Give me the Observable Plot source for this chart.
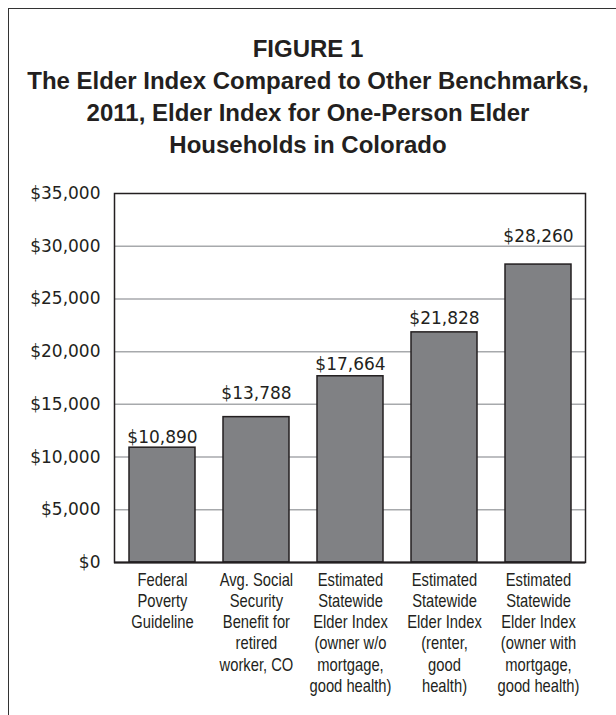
<!DOCTYPE html>
<html>
<head>
<meta charset="utf-8">
<script src="https://cdn.jsdelivr.net/npm/d3@7"></script>
<script src="https://cdn.jsdelivr.net/npm/@observablehq/plot@0.6"></script>
<style>
  html, body { margin: 0; padding: 0; background: #fff; width: 616px; height: 715px; overflow: hidden; }
  #box { position: absolute; left: 8px; top: 8px; width: 700px; height: 800px;
         border-left: 1.5px solid #333; border-top: 1.5px solid #333; }
  #title { position: absolute; left: 0; top: 33px; width: 616px; text-align: center;
           font-family: "Liberation Sans", Arial, sans-serif; font-weight: bold;
           font-size: 24px; line-height: 32px; color: #231f20; }
  #chart { position: absolute; left: 0; top: 170px; }
</style>
</head>
<body>
<div id="box"></div>
<div id="title">FIGURE 1<br>The Elder Index Compared to Other Benchmarks,<br>2011, Elder Index for One-Person Elder<br>Households in Colorado</div>
<div id="chart"></div>
<script>
const categories = [
  "Federal\nPoverty\nGuideline",
  "Avg. Social\nSecurity\nBenefit for\nretired\nworker, CO",
  "Estimated\nStatewide\nElder Index\n(owner w/o\nmortgage,\ngood health)",
  "Estimated\nStatewide\nElder Index\n(renter,\ngood\nhealth)",
  "Estimated\nStatewide\nElder Index\n(owner with\nmortgage,\ngood health)"
];
const values = [10890, 13788, 17664, 21828, 28260];
const yTicks = [0, 5000, 10000, 15000, 20000, 25000, 30000, 35000];

const data = categories.map((c, i) => ({cat: c, value: values[i]}));
const fmt = d3.format("$,");
// gap (px) between each bar top and its value label baseline, as placed in the original
const labelGap = [5, 18.5, 6, 8, 23];

const numFont = "DejaVu Sans, sans-serif";
const labelFont = "'Liberation Sans', Arial, sans-serif";
const ink = "#231f20";

const labelMarks = data.map((d, i) =>
  Plot.text([d], {x: "cat", y: "value", text: d => fmt(d.value), lineAnchor: "bottom",
    dy: -labelGap[i], fontSize: 17, fontFamily: numFont, fill: ink})
);

const chart = Plot.plot({
  width: 616,
  height: 545,
  marginTop: 23,
  marginBottom: 153,
  marginLeft: 114,
  marginRight: 31,
  style: {background: "transparent", color: ink},
  x: {domain: categories, paddingInner: 0.3, paddingOuter: 0.15, label: null},
  y: {domain: [0, 35000], label: null},
  marks: [
    Plot.ruleY(yTicks.slice(1, -1), {stroke: "#a7a9ac", strokeWidth: 1.5}),
    Plot.barY(data, {x: "cat", y: "value", fill: "#808184", stroke: ink, strokeWidth: 1.5}),
    Plot.frame({stroke: ink, strokeWidth: 1.5}),
    Plot.ruleY([0], {stroke: ink, strokeWidth: 2}),
    ...labelMarks,
    Plot.axisY({ticks: yTicks, tickFormat: fmt, tickSize: 0, tickPadding: 14,
      fontSize: 17, fontFamily: numFont, fill: ink, label: null}),
    Plot.axisX({tickSize: 0, tickPadding: 8, fontSize: 18, fontFamily: labelFont,
      lineHeight: 1.183, fill: ink, label: null, textOverflow: null})
  ]
});
document.getElementById("chart").appendChild(chart);
// condense the category labels horizontally (narrow face of the original)
d3.select(chart).selectAll("g[aria-label='x-axis tick label'] text").each(function () {
  const t = this.getAttribute("transform") || "";
  const b = this.getBBox();
  const cx = b.x + b.width / 2;
  this.setAttribute("transform",
    `${t} translate(${cx},0) scale(0.82,1) translate(${-cx},0)`.trim());
});
</script>
</body>
</html>
